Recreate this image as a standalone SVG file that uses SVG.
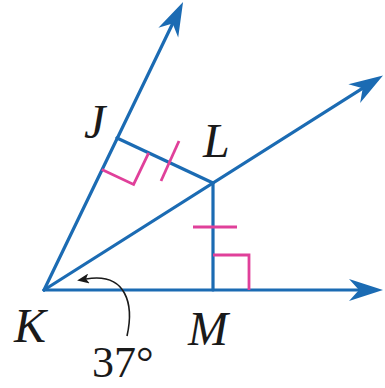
<svg xmlns="http://www.w3.org/2000/svg" width="385" height="388" viewBox="0 0 385 388">
<defs>
<style>
.ray{stroke:#1b6bb3;stroke-width:3.2;fill:none;stroke-linecap:round}
.pk{stroke:#e0409a;stroke-width:2.8;fill:none}
.lbl{font-family:"Liberation Serif",serif;font-style:italic;font-size:48px;fill:#1a1a1a}
.num{font-family:"Liberation Serif",serif;font-size:44px;fill:#1a1a1a}
</style>
<marker id="ah" viewBox="0 0 34 24" refX="12" refY="12" markerWidth="34" markerHeight="24" markerUnits="userSpaceOnUse" orient="auto">
<path d="M34,12 L0,1 L10,12 L0,23 Z" fill="#1b6bb3"/>
</marker>
<marker id="sa" viewBox="0 0 12 10" refX="3" refY="5" markerWidth="12" markerHeight="10" markerUnits="userSpaceOnUse" orient="auto-start-reverse">
<path d="M12,5 L0,0 L3,5 L0,10 Z" fill="#1a1a1a"/>
</marker>
</defs>
<rect width="385" height="388" fill="#ffffff"/>
<g id="connectors">
<line class="ray" x1="44" y1="290" x2="361" y2="290" marker-end="url(#ah)"/>
<line class="ray" x1="44" y1="290" x2="364.4" y2="87.2" marker-end="url(#ah)"/>
<line class="ray" x1="44" y1="290" x2="173.5" y2="21.8" marker-end="url(#ah)"/>
<line class="ray" x1="117" y1="138" x2="213" y2="183"/>
<line class="ray" x1="213" y1="183" x2="213" y2="290"/>
</g>
<g id="marks">
<polyline class="pk" points="101.8,169.5 133.6,184.4 148.7,152.8"/>
<line class="pk" x1="179" y1="141" x2="161" y2="181"/>
<line class="pk" x1="193" y1="227" x2="237" y2="227"/>
<polyline class="pk" points="213,255 249,255 249,290"/>
</g>
<g id="angle">
<path d="M127,336 C134,305 127,272 86,279" fill="none" stroke="#1a1a1a" stroke-width="1.6" marker-end="url(#sa)"/>
<text class="num" x="92" y="377">37°</text>
</g>
<g id="J"><text class="lbl" x="84" y="138">J</text></g>
<g id="L"><text class="lbl" x="203" y="157">L</text></g>
<g id="K"><text class="lbl" x="14" y="342">K</text></g>
<g id="M"><text class="lbl" x="188" y="345">M</text></g>
</svg>
